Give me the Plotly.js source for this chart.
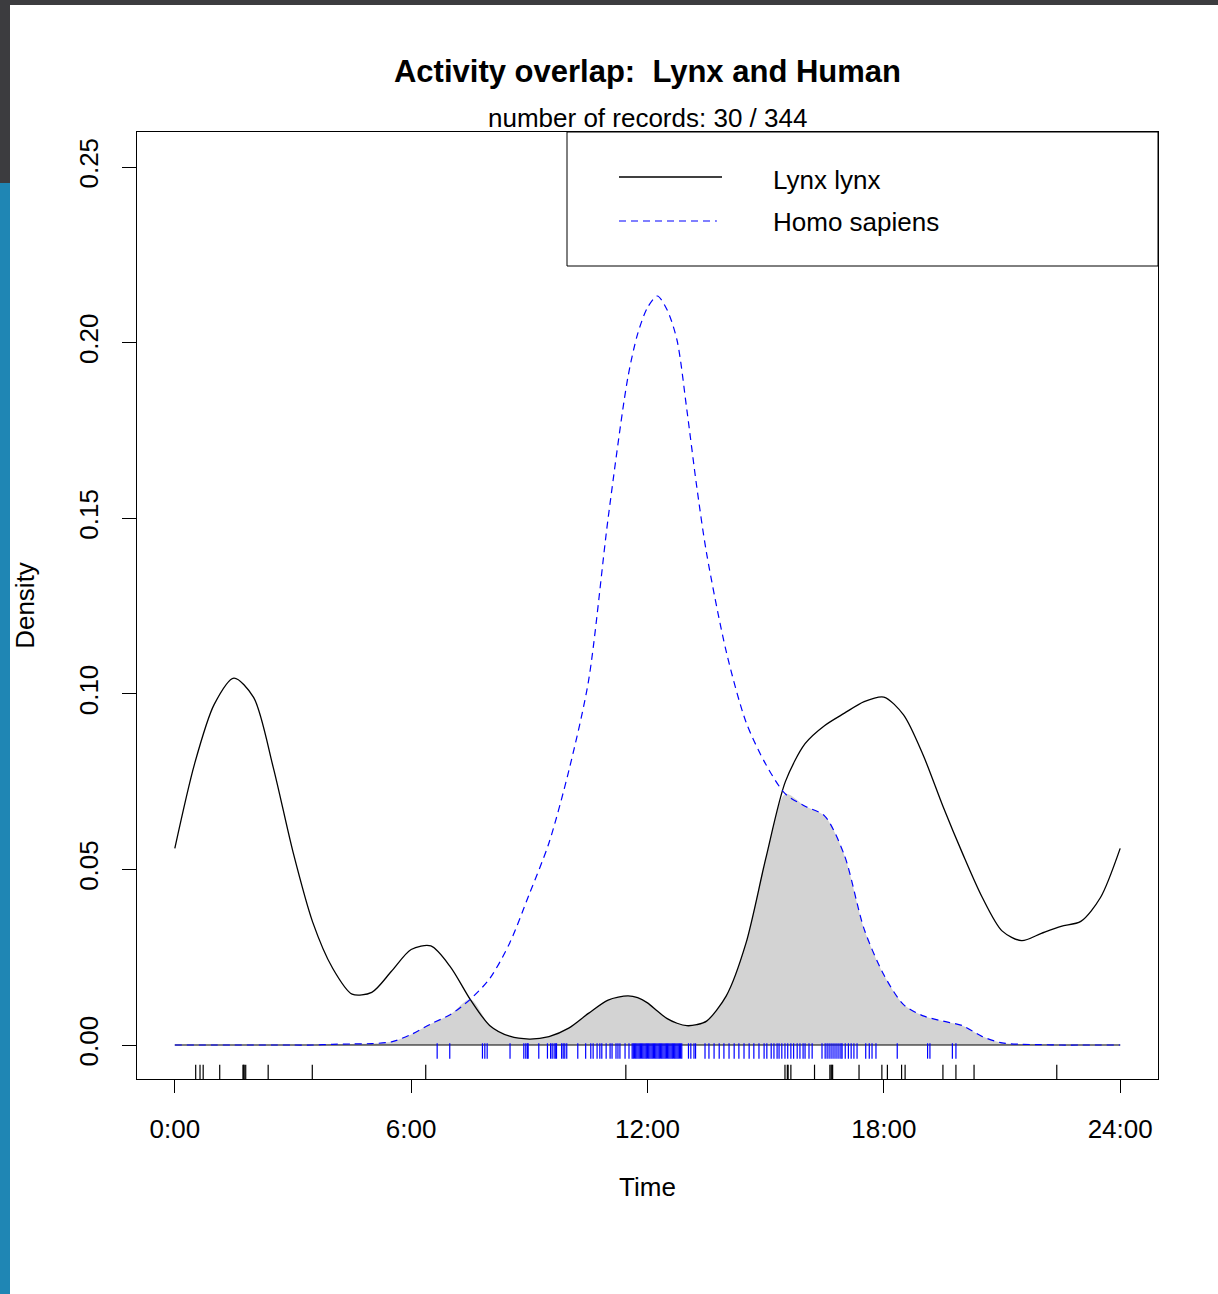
<!DOCTYPE html>
<html>
<head>
<meta charset="utf-8">
<script src="https://cdn.plot.ly/plotly-3.0.1.min.js"></script>
<style>
  html, body { margin:0; padding:0; width:1218px; height:1294px; overflow:hidden; background:#3c3c3f; }
  #strip { position:absolute; left:0; top:183px; width:10px; height:1111px; background:#1f86b4; }
  #chart { position:absolute; left:10px; top:5px; width:1208px; height:1289px; background:#fff; }
</style>
</head>
<body>
<div id="strip"></div>
<div id="chart"></div>
<script>
// ---- data ----
const hours = [0,0.5,1,1.5,2,2.5,3,3.5,4,4.5,5,5.5,6,6.5,7,7.5,8,8.5,9,9.5,10,10.5,11,11.5,11.75,12,12.25,12.5,12.75,13,13.25,13.5,14,14.5,15,15.5,16,16.5,17,17.5,18,18.5,19,19.5,20,20.5,21,21.5,22,22.5,23,23.5,24];

const lynxDensity = [0.056,0.080,0.097,0.1045,0.099,0.079,0.055,0.035,0.022,0.0145,0.0150,0.021,0.0272,0.0282,0.0222,0.013,0.0055,0.0025,0.0017,0.0024,0.0048,0.009,0.0128,0.0140,0.0135,0.0120,0.0097,0.0075,0.0062,0.0055,0.0058,0.0068,0.014,0.029,0.053,0.075,0.0858,0.091,0.0945,0.0978,0.0991,0.094,0.0825,0.068,0.0545,0.042,0.0325,0.0297,0.0318,0.0338,0.0352,0.042,0.056];

const humanDensity = [0,0,0,0,0,0,0,0,0.0002,0.0003,0.0004,0.0009,0.003,0.006,0.0087,0.013,0.019,0.029,0.043,0.0576,0.078,0.1035,0.150,0.190,0.2025,0.2100,0.2133,0.2093,0.2007,0.1808,0.159,0.140,0.112,0.092,0.080,0.0715,0.068,0.0652,0.054,0.033,0.020,0.0115,0.0083,0.0068,0.0055,0.0024,0.0006,0.0002,0.0001,0,0,0,0];

const lynxRecords = [0.53,0.64,0.72,1.14,1.73,1.75,1.76,1.80,2.37,3.49,6.37,11.45,15.49,15.55,15.57,15.64,16.24,16.63,16.66,16.68,16.70,17.37,17.95,18.09,18.45,18.54,19.50,19.83,20.29,22.39];

const humanRecords = [6.66,6.98,7.81,7.87,7.93,8.51,8.86,8.91,8.95,8.97,9.24,9.46,9.54,9.58,9.63,9.67,9.69,9.82,9.86,9.90,9.95,10.23,10.43,10.56,10.62,10.72,10.79,10.84,10.95,11.05,11.10,11.20,11.25,11.30,11.43,11.53,11.61,11.64,11.67,11.70,11.73,11.76,11.79,11.82,11.85,11.88,11.91,11.94,11.97,12.00,12.03,12.06,12.09,12.12,12.15,12.18,12.21,12.24,12.27,12.30,12.33,12.36,12.39,12.42,12.45,12.48,12.51,12.54,12.57,12.60,12.63,12.66,12.69,12.72,12.75,12.78,12.81,12.84,12.87,13.04,13.10,13.18,13.22,13.46,13.56,13.69,13.82,13.94,14.07,14.20,14.32,14.45,14.58,14.70,14.83,14.96,15.03,15.14,15.21,15.29,15.34,15.41,15.49,15.56,15.64,15.71,15.80,15.87,15.95,16.00,16.10,16.18,16.43,16.51,16.56,16.61,16.66,16.71,16.76,16.81,16.86,16.91,16.94,17.02,17.10,17.17,17.24,17.32,17.54,17.63,17.70,17.80,18.34,19.11,19.17,19.74,19.83];

const xTickVals = [0,6,12,18,24];
const xTickText = ["0:00","6:00","12:00","18:00","24:00"];
const yTickVals = [0,0.05,0.10,0.15,0.20,0.25];
const yTickText = ["0.00","0.05","0.10","0.15","0.20","0.25"];

const seriesNames = ["Lynx lynx","Homo sapiens"];
const titleText = "Activity overlap:\u00A0 Lynx and Human";
const subtitleText = "number of records: 30 / 344";

// ---- derived ----
const overlap = hours.map((h,i) => Math.min(lynxDensity[i], humanDensity[i]));
const FONT = '"Liberation Sans", Arial, sans-serif';
const FS = 26;

const traces = [
  {x: hours, y: overlap, type:'scatter', mode:'lines', fill:'tozeroy', fillcolor:'#d3d3d3',
   line:{width:0, shape:'spline', smoothing:0.8}, hoverinfo:'skip', showlegend:false},
  {x: [hours[0], hours[hours.length-1]], y: [0,0], type:'scatter', mode:'lines',
   line:{color:'#000', width:1}, hoverinfo:'skip', showlegend:false},
  {x: hours, y: lynxDensity, type:'scatter', mode:'lines', name: seriesNames[0],
   line:{color:'#000', width:1.3, shape:'spline', smoothing:0.8}, showlegend:false},
  {x: hours, y: humanDensity, type:'scatter', mode:'lines', name: seriesNames[1],
   line:{color:'#0000ff', width:1.2, dash:'7px,5px', shape:'spline', smoothing:0.8}, showlegend:false},
  {x: humanRecords, y: humanRecords.map(() => -0.0017), type:'scatter', mode:'markers',
   marker:{symbol:'line-ns', size:11, line:{color:'#0000ff', width:1.2}}, hoverinfo:'skip', showlegend:false},
  {x: lynxRecords, y: lynxRecords.map(() => -0.0080), type:'scatter', mode:'markers',
   marker:{symbol:'line-ns', size:12, line:{color:'#000', width:1.2}}, hoverinfo:'skip', showlegend:false}
];

const legX0 = (567-137)/1021, lineX0 = (619-137)/1021, lineX1 = (722-137)/1021, textX = (771-137)/1021;
const legY0 = 1 - (266-132)/947, row1 = 1 - (180-132)/947, row2 = 1 - (222-132)/947;

const layout = {
  width:1208, height:1289,
  margin:{l:127, r:60, t:127, b:215},
  paper_bgcolor:'#fff', plot_bgcolor:'#fff',
  font:{family:FONT, size:FS, color:'#000'},
  title:{text:titleText, font:{family:FONT, size:31, color:'#000', weight:'bold'},
         x:0.5, xref:'paper', xanchor:'center', y:1-(71-5)/1289, yanchor:'middle'},
  xaxis:{range:[-0.96,24.96], tickvals:xTickVals, ticktext:xTickText, ticks:'outside', ticklen:13,
         tickcolor:'#000', showline:true, mirror:true, linecolor:'#000', linewidth:1,
         showgrid:false, zeroline:false, ticklabelstandoff:14,
         title:{text:'Time', standoff:34, font:{family:FONT, size:FS}}},
  yaxis:{range:[-0.00968,0.26], tickvals:yTickVals, ticktext:yTickText, ticks:'outside', ticklen:14,
         tickcolor:'#000', tickangle:-90, showline:true, mirror:true, linecolor:'#000', linewidth:1,
         showgrid:false, zeroline:false, ticklabelstandoff:14,
         title:{text:'Density', standoff:31, font:{family:FONT, size:FS}}},
  shapes:[
    {type:'rect', xref:'paper', yref:'paper', x0:legX0, x1:1, y0:legY0, y1:1, line:{color:'#000', width:1}, fillcolor:'#fff'},
    {type:'line', xref:'paper', yref:'paper', x0:lineX0, x1:lineX1, y0:1-(177-132)/947, y1:1-(177-132)/947, line:{color:'#000', width:1.3}},
    {type:'line', xref:'paper', yref:'paper', x0:lineX0, x1:lineX1-0.005, y0:1-(221-132)/947, y1:1-(221-132)/947, line:{color:'#0000ff', width:1.2, dash:'7px,5px'}}
  ],
  annotations:[
    {text:subtitleText, xref:'paper', yref:'paper', x:0.5, y:1, xanchor:'center', yanchor:'bottom', yshift:-3,
     showarrow:false, font:{family:FONT, size:FS}},
    {text:seriesNames[0], xref:'paper', yref:'paper', x:textX, y:row1, xanchor:'left', yanchor:'middle', showarrow:false, font:{family:FONT, size:FS}},
    {text:seriesNames[1], xref:'paper', yref:'paper', x:textX, y:row2, xanchor:'left', yanchor:'middle', showarrow:false, font:{family:FONT, size:FS}}
  ]
};

Plotly.newPlot('chart', traces, layout, {staticPlot:true, displayModeBar:false});
</script>
</body>
</html>
